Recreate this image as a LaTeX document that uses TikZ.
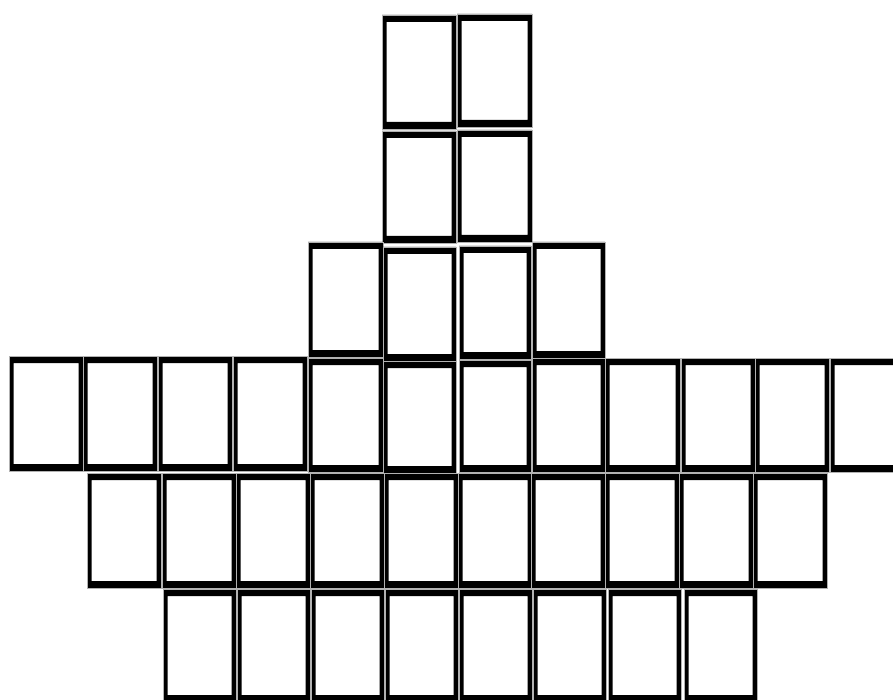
\documentclass[tikz,border=0pt]{standalone}
\begin{document}
\begin{tikzpicture}[x=1pt,y=-1pt]
\useasboundingbox (0,0) rectangle (893,700);
\fill[white] (0,0) rectangle (893,700);
% box: x, y, w, h ; frame with thicker top/bottom
\newcommand{\cardbox}[4]{%
  \fill[black,even odd rule] (#1,#2) rectangle ++(#3,#4)
    (#1+4.5,#2+7) rectangle (#1+#3-4.5,#2+#4-7);
  \draw[gray!60,line width=0.6pt] (#1,#2) rectangle ++(#3,#4);
}
% row 1
\cardbox{382}{15}{74}{114}
\cardbox{457}{14}{75}{113}
% row 2
\cardbox{382}{131}{74}{112}
\cardbox{457}{130}{75}{112}
% row 3
\cardbox{308}{242}{75}{115}
\cardbox{383}{247}{73}{114}
\cardbox{459}{246}{72}{113}
\cardbox{532}{242}{73}{116}
% row 4
\foreach \x in {9,83,158,233}{\cardbox{\x}{356}{74}{115}}
\cardbox{308}{358}{75}{114}
\cardbox{383}{361}{73}{112}
\cardbox{459}{360}{72}{112}
\cardbox{532}{358}{73}{114}
\cardbox{605}{358}{75}{114}
\cardbox{681}{358}{74}{114}
\cardbox{755}{358}{74}{114}
\cardbox{830}{358}{74}{114}
% row 5
\foreach \x in {87,162,236,310,384,458,531,605,679,753}{\cardbox{\x}{473}{74}{115}}
% row 6
\foreach \x in {163,237,311,385,459,533,608,684}{\cardbox{\x}{589}{73}{113}}
\end{tikzpicture}
\end{document}
